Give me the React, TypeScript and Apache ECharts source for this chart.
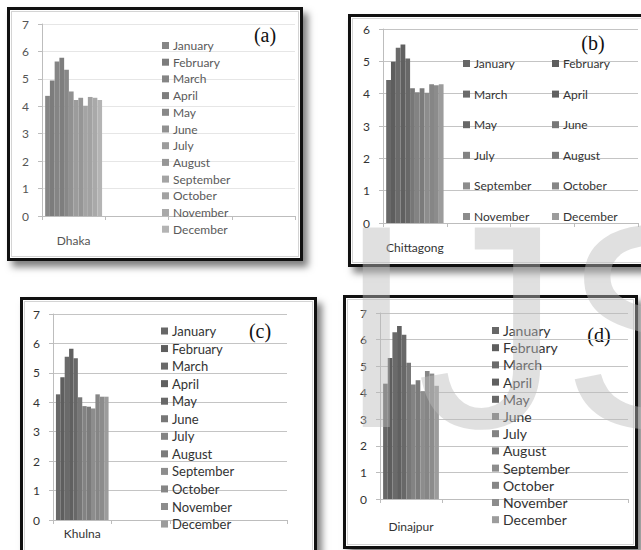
import React, { useEffect, useRef } from "react";
import * as echarts from "echarts";

// Monthly values per station
const months = [
  "January", "February", "March", "April", "May", "June",
  "July", "August", "September", "October", "November", "December",
];
const dhaka = [4.38, 4.94, 5.63, 5.77, 5.33, 4.54, 4.23, 4.31, 4.02, 4.34, 4.31, 4.23];
const chittagong = [4.42, 4.99, 5.42, 5.52, 5.09, 4.17, 4.04, 4.17, 4.03, 4.29, 4.26, 4.29];
const khulna = [4.27, 4.85, 5.55, 5.82, 5.5, 4.17, 3.87, 3.85, 3.79, 4.27, 4.19, 4.19];
const dinajpur = [4.34, 5.31, 6.28, 6.51, 6.18, 5.13, 4.31, 4.47, 4.06, 4.82, 4.72, 4.26];

// Each chart keeps three empty slots after its station on the category axis
const emptySlots = ["", "", ""];

const lightShades = [
  "#868686", "#7c7c7c", "#858585", "#7e7e7e", "#888888", "#919191",
  "#9c9c9c", "#969696", "#a4a4a4", "#a2a2a2", "#a9a9a9", "#b4b4b4",
];
const darkShades = [
  "#676767", "#5e5e5e", "#6a6a6a", "#606060", "#686868", "#777777",
  "#838383", "#7b7b7b", "#8d8d8d", "#868686", "#8c8c8c", "#9c9c9c",
];

const FONT = "Lato, 'Open Sans', sans-serif";

type Panel = {
  tag: string;
  station: string;
  values: number[];
  yMax: number;
  colors: string[];
  box: { left: number; top: number; width: number; height: number };
  plot: { left: number; right: number; top: number; bottom: number };
  catMargin: number;
  gridColor: string;
  labelColor: string;
  legendColor: string;
  legendFont: number;
  legendLeft: number[];
  legendTop: number;
  legendRow: number;
  tagPos: [number, number];
};

const panels: Panel[] = [
  {
    tag: "(a)", station: "Dhaka", values: dhaka, yMax: 7, colors: lightShades,
    box: { left: 7, top: 7, width: 296, height: 254 },
    plot: { left: 42, right: 295, top: 24, bottom: 216 },
    catMargin: 18, gridColor: "#e6e6e6", labelColor: "#555", legendColor: "#5a5a5a",
    legendFont: 12, legendLeft: [162], legendTop: 38, legendRow: 16.7, tagPos: [265, 35],
  },
  {
    tag: "(b)", station: "Chittagong", values: chittagong, yMax: 6, colors: darkShades,
    box: { left: 348, top: 14, width: 310, height: 253 },
    plot: { left: 383, right: 638, top: 29, bottom: 223 },
    catMargin: 18, gridColor: "#c4c4c4", labelColor: "#333", legendColor: "#333",
    legendFont: 12, legendLeft: [463, 552], legendTop: 56, legendRow: 30.6, tagPos: [593, 43],
  },
  {
    tag: "(c)", station: "Khulna", values: khulna, yMax: 7, colors: darkShades,
    box: { left: 20, top: 297, width: 297, height: 270 },
    plot: { left: 53, right: 287, top: 314, bottom: 520 },
    catMargin: 7, gridColor: "#c4c4c4", labelColor: "#333", legendColor: "#333",
    legendFont: 13, legendLeft: [161], legendTop: 323, legendRow: 17.55, tagPos: [260, 331],
  },
  {
    tag: "(d)", station: "Dinajpur", values: dinajpur, yMax: 7, colors: darkShades,
    box: { left: 343, top: 295, width: 295, height: 254 },
    plot: { left: 380, right: 628, top: 313, bottom: 499 },
    catMargin: 21, gridColor: "#c4c4c4", labelColor: "#333", legendColor: "#333",
    legendFont: 14, legendLeft: [492], legendTop: 322, legendRow: 17.2, tagPos: [599, 335],
  },
];

const BORDER = 3;

function buildOption(p: Panel) {
  const ox = p.box.left + BORDER;
  const oy = p.box.top + BORDER;
  const axisGray = "#bdbdbd";
  const lineH = p.legendFont + 3;
  const columns = p.legendLeft.length;
  const legends = p.legendLeft.map((lx, c) => ({
    orient: "vertical",
    left: lx - ox,
    top: p.legendTop - oy,
    padding: 0,
    icon: "rect",
    itemWidth: 7,
    itemHeight: 7,
    itemGap: p.legendRow - lineH,
    data: months.filter((_, i) => i % columns === c),
    textStyle: {
      color: p.legendColor,
      fontSize: p.legendFont,
      fontFamily: FONT,
      lineHeight: lineH,
      padding: [0, 0, 0, -1],
    },
    selectedMode: false,
  }));

  return {
    animation: false,
    textStyle: { fontFamily: FONT },
    grid: {
      left: p.plot.left - ox,
      top: p.plot.top - oy,
      width: p.plot.right - p.plot.left,
      height: p.plot.bottom - p.plot.top,
    },
    xAxis: {
      type: "category",
      data: [p.station, ...emptySlots],
      axisLine: { lineStyle: { color: axisGray } },
      axisTick: { show: true, length: 4, lineStyle: { color: axisGray } },
      axisLabel: { color: p.labelColor, fontSize: 12, margin: p.catMargin, interval: 0, fontFamily: FONT },
    },
    yAxis: {
      type: "value",
      min: 0,
      max: p.yMax,
      interval: 1,
      axisLine: { show: true, lineStyle: { color: axisGray } },
      axisTick: { show: true, length: 4, lineStyle: { color: axisGray } },
      axisLabel: { color: p.labelColor, fontSize: 12, margin: 13, fontFamily: FONT },
      splitLine: { lineStyle: { color: p.gridColor } },
    },
    legend: legends,
    graphic: [
      {
        type: "text",
        x: p.tagPos[0] - ox,
        y: p.tagPos[1] - oy,
        style: {
          text: p.tag,
          font: "20px 'Liberation Serif', 'DejaVu Serif', serif",
          fill: "#111",
          textAlign: "center",
          textVerticalAlign: "middle",
        },
      },
    ],
    series: months.map((m, i) => ({
      name: m,
      type: "bar",
      data: [p.values[i]],
      barGap: "0%",
      barCategoryGap: "10%",
      itemStyle: { color: p.colors[i] },
    })),
  };
}

function ChartPanel({ p }: { p: Panel }) {
  const ref = useRef<HTMLDivElement>(null);
  useEffect(() => {
    if (!ref.current) return;
    const chart = echarts.init(ref.current, undefined, { renderer: "svg" });
    chart.setOption(buildOption(p) as any);
    return () => chart.dispose();
  }, [p]);
  return (
    <div
      style={{
        position: "absolute",
        left: p.box.left,
        top: p.box.top,
        width: p.box.width,
        height: p.box.height,
        boxSizing: "border-box",
        border: `${BORDER}px solid #101010`,
        background: "#fff",
        boxShadow: "5px 6px 7px rgba(0,0,0,0.5)",
      }}
    >
      <div
        style={{
          position: "absolute",
          left: 1,
          top: 1,
          right: 1,
          bottom: 1,
          border: "1px solid #d4d4d4",
        }}
      />
      <div
        ref={ref}
        style={{
          position: "absolute",
          left: 0,
          top: 0,
          width: p.box.width - 2 * BORDER,
          height: p.box.height - 2 * BORDER,
        }}
      />
    </div>
  );
}

function Watermark() {
  const ref = useRef<HTMLDivElement>(null);
  useEffect(() => {
    if (!ref.current) return;
    const chart = echarts.init(ref.current, undefined, { renderer: "svg" });
    chart.setOption({
      animation: false,
      graphic: [
        {
          type: "text",
          x: 336,
          y: 326,
          silent: true,
          style: {
            text: "IJSER",
            font: "290px 'Liberation Sans', Arial, sans-serif",
            fill: "rgba(188,188,188,0.46)",
            textAlign: "left",
            textVerticalAlign: "middle",
          },
        },
      ],
    } as any);
    return () => chart.dispose();
  }, []);
  return (
    <div
      ref={ref}
      style={{
        position: "absolute",
        left: 0,
        top: 0,
        width: 641,
        height: 550,
        pointerEvents: "none",
      }}
    />
  );
}

export default function App() {
  return (
    <div
      style={{
        position: "absolute",
        left: 0,
        top: 0,
        width: 641,
        height: 550,
        overflow: "hidden",
        background: "#fff",
      }}
    >
      {panels.map((p) => (
        <ChartPanel key={p.tag} p={p} />
      ))}
      <Watermark />
    </div>
  );
}
